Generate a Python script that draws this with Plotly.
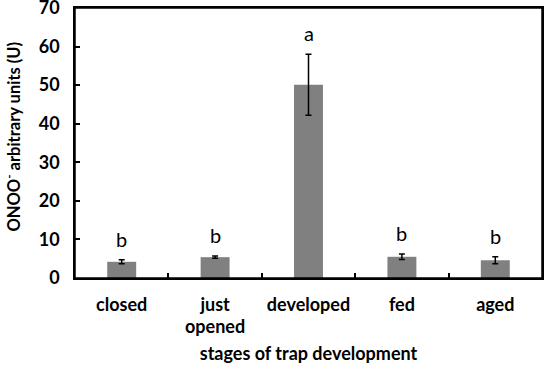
import plotly.graph_objects as go

categories = ["closed", "just opened", "developed", "fed", "aged"]
tick_text = ["closed", "just", "developed", "fed", "aged"]
values = [4.2, 5.4, 50.1, 5.5, 4.6]
errors = [0.5, 0.3, 7.9, 0.7, 0.9]
letters = ["b", "b", "a", "b", "b"]
y_ticks = [0, 10, 20, 30, 40, 50, 60, 70]

fig = go.Figure()
fig.add_trace(go.Bar(
    x=categories, y=values,
    marker=dict(color="#808080", line=dict(width=0)),
    error_y=dict(type="data", array=errors, visible=True, color="black", thickness=1.5, width=3),
    width=0.31,
))
for c, v, e, l in zip(categories, values, errors, letters):
    fig.add_annotation(x=c, y=v + e, text=l, showarrow=False, yanchor="middle", yshift=21,
                       font=dict(family="Lato", size=20, color="black"))

# second line of the "just opened" tick label
fig.add_annotation(x=categories[1], y=0, yref="paper", text="<b>opened</b>", showarrow=False,
                   yanchor="middle", yshift=-48, font=dict(family="Lato", size=18, color="black"))
# y-axis title
fig.add_annotation(x=0, xref="paper", y=0.524, yref="paper", text="<b>ONOO<sup>-</sup> arbitrary units (U)</b>",
                   showarrow=False, textangle=-90, xanchor="center", yanchor="middle", xshift=-62,
                   font=dict(family="Lato", size=16.5, color="black"))
# plot frame
fig.add_shape(type="rect", xref="paper", yref="paper", x0=0, y0=0, x1=1, y1=1,
              line=dict(color="black", width=1.5), layer="above")

fig.update_layout(
    width=550, height=366,
    margin=dict(l=75, r=8, t=8, b=88, autoexpand=False),
    plot_bgcolor="white", paper_bgcolor="white",
    showlegend=False,
    font=dict(family="Lato", size=17, color="black"),
)
fig.update_xaxes(
    type="category", tickson="boundaries", ticks="inside", ticklen=5, tickwidth=1.5, tickcolor="black",
    tickvals=categories, ticktext=tick_text,
    showline=True, linecolor="black", linewidth=1.5, mirror=True, automargin=False,
    tickfont=dict(family="Lato", size=18, color="black", weight="bold"),
    ticklabelstandoff=10,
    title=dict(text="<b>stages of trap development</b>", standoff=33, font=dict(family="Lato", size=18)),
)
fig.update_yaxes(
    range=[0, 70], tickvals=y_ticks, ticks="inside", ticklen=5, tickwidth=1.5, tickcolor="black",
    showline=True, linecolor="black", linewidth=1.5, mirror=True, showgrid=False, zeroline=False,
    automargin=False, ticklabeloverflow="allow",
    tickfont=dict(family="Lato", size=18, color="black", weight="bold"),
    ticklabelstandoff=10,
)
fig.write_html("out.html", post_script="document.body.style.margin='0';",
               config={"displayModeBar": False})
